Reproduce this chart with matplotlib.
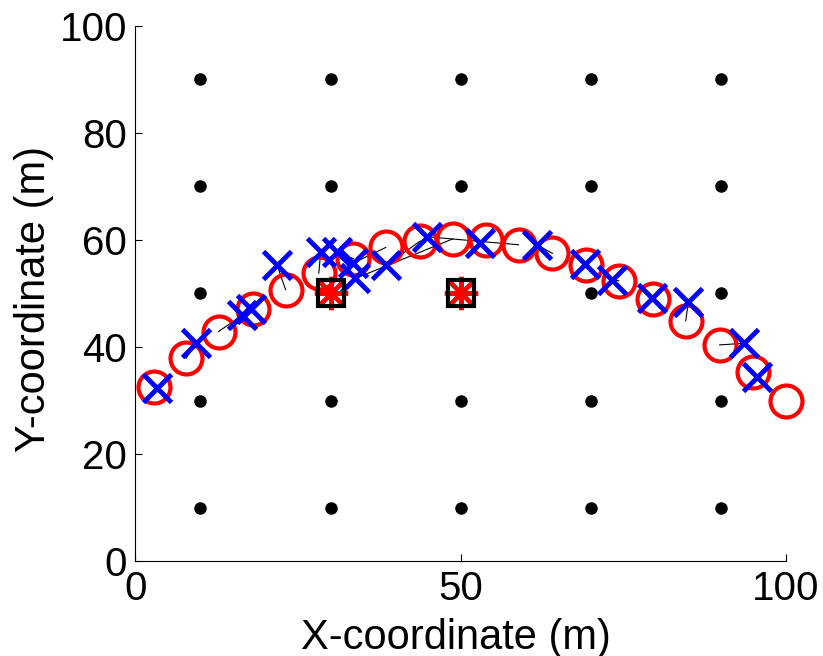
import numpy as np
import matplotlib.pyplot as plt

plt.rcParams['font.family'] = ['Liberation Sans', 'DejaVu Sans']

# grid of reference nodes
grid_x = [10, 30, 50, 70, 90]
grid_y = [10, 30, 50, 70, 90]

# anchors
anchor_x = [30, 50]
anchor_y = [50, 50]

# true track (red circles)
true_x = [2.8, 7.8, 12.8, 18.1, 23.1, 28.2, 33.5, 38.5, 43.8, 48.8,
          53.9, 58.9, 64.1, 69.2, 74.3, 79.5, 84.6, 89.8, 94.9, 100.0]
true_y = [32.6, 37.9, 42.9, 47.1, 50.7, 53.8, 56.5, 58.6, 59.8, 60.2,
          60.0, 59.1, 57.5, 55.3, 52.4, 48.9, 44.9, 40.4, 35.4, 29.9]

# estimates (blue x), last one missing
est_x = [3.4, 9.4, 16.4, 17.8, 21.8, 28.5, 31.0, 33.5, 38.6, 33.8,
         53.0, 44.8, 61.7, 69.1, 73.2, 79.4, 85.0, 93.5, 95.6, np.nan]
est_y = [32.3, 40.8, 45.9, 47.1, 55.3, 57.8, 57.8, 55.7, 55.3, 52.8,
         59.4, 60.6, 59.1, 55.6, 52.5, 49.1, 48.5, 40.7, 34.5, np.nan]

fig = plt.figure(figsize=(8.23, 6.56), dpi=100)
ax = fig.add_axes([0.1644, 0.1444, 0.7906, 0.8164])

gx, gy = np.meshgrid(grid_x, grid_y)
ax.plot(gx.ravel(), gy.ravel(), 'o', color='k', ms=8, zorder=2)

for tx, ty, ex, ey in zip(true_x, true_y, est_x, est_y):
    if np.isnan(ex):
        continue
    ax.plot([tx, ex], [ty, ey], '-', color='k', lw=0.8, zorder=3)

ax.plot(true_x, true_y, 'o', ms=23, mfc='none', mec='#ff0000', mew=3, zorder=4, clip_on=False)
ax.plot(est_x, est_y, 'x', ms=20, color='#0000ff', mew=3.5, zorder=5, clip_on=False)

ax.plot(anchor_x, anchor_y, marker=(8, 2, 0), ls='none', ms=24, color='#ff0000', mew=3, zorder=6)
ax.plot(anchor_x, anchor_y, 's', ms=19, mfc='none', mec='k', mew=3, zorder=7)

ax.set_xlim(0, 100)
ax.set_ylim(0, 100)
ax.set_xticks([0, 50, 100])
ax.set_yticks([0, 20, 40, 60, 80, 100])
ax.spines['top'].set_visible(False)
ax.spines['right'].set_visible(False)
ax.tick_params(direction='in', length=5, width=0.8, labelsize=29, pad=6)
for s in ax.spines.values():
    s.set_linewidth(0.8)

ax.set_xlabel('X-coordinate (m)', fontsize=30)
ax.set_ylabel('Y-coordinate (m)', fontsize=30)
ax.xaxis.set_label_coords(0.493, -0.105)
ax.yaxis.set_label_coords(-0.125, 0.49)

fig.savefig('out.png', dpi=100)
